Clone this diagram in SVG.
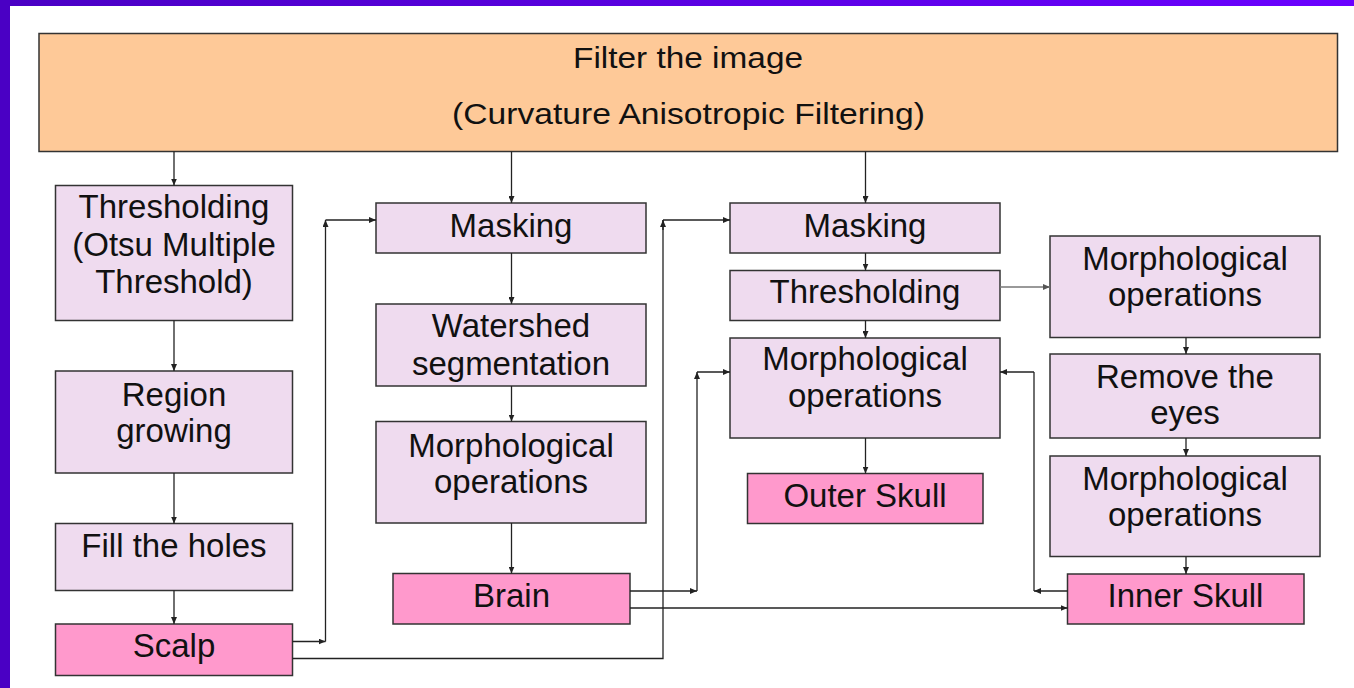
<svg xmlns="http://www.w3.org/2000/svg" width="1354" height="688" viewBox="0 0 1354 688">
<defs>
<linearGradient id="frame" x1="0" y1="0" x2="1" y2="0">
<stop offset="0" stop-color="#4a00c4"/>
<stop offset="1" stop-color="#6a00ff"/>
</linearGradient>
<marker id="ah" markerUnits="userSpaceOnUse" markerWidth="7" markerHeight="6" refX="7" refY="3" orient="auto">
<path d="M0,0 L7,3 L0,6 z" fill="#222"/>
</marker>
<marker id="ahg" markerUnits="userSpaceOnUse" markerWidth="7" markerHeight="6" refX="7" refY="3" orient="auto">
<path d="M0,0 L7,3 L0,6 z" fill="#555"/>
</marker>
<style>
.box{fill:#efdbef;stroke:#333;stroke-width:1.5}
.out{fill:#ff99cc;stroke:#333;stroke-width:1.5}
.top{fill:#fec998;stroke:#333;stroke-width:1.5}
text{font-family:"Liberation Sans",Arial,sans-serif;font-size:33px;fill:#111;text-anchor:middle}
.tt{font-size:29px}
.c{fill:none;stroke:#222;stroke-width:1.3;marker-end:url(#ah)}
.n{fill:none;stroke:#222;stroke-width:1.3}
.g{fill:none;stroke:#777;stroke-width:1.3;marker-end:url(#ahg)}
</style>
</defs>
<rect x="0" y="0" width="1354" height="688" fill="#ffffff"/>
<rect x="0" y="0" width="1354" height="6" fill="url(#frame)"/>
<rect x="0" y="0" width="10" height="688" fill="#4a00c4"/>

<g id="filter">
<rect class="top" x="39" y="33.5" width="1298.5" height="118"/>
<text class="tt" x="688" y="68" textLength="230" lengthAdjust="spacingAndGlyphs">Filter the image</text>
<text class="tt" x="688.5" y="123.5" textLength="473" lengthAdjust="spacingAndGlyphs">(Curvature Anisotropic Filtering)</text>
</g>

<g id="thresholding1">
<rect class="box" x="55.5" y="185.5" width="237" height="135"/>
<text x="174" y="218">Thresholding</text>
<text x="174" y="255.5">(Otsu Multiple</text>
<text x="174" y="293">Threshold)</text>
</g>
<g id="region">
<rect class="box" x="55.5" y="371" width="237" height="102"/>
<text x="174" y="406">Region</text>
<text x="174" y="442">growing</text>
</g>
<g id="fill">
<rect class="box" x="55.5" y="523.5" width="237" height="67"/>
<text x="174" y="557">Fill the holes</text>
</g>
<g id="scalp">
<rect class="out" x="55.5" y="624" width="237" height="51.5"/>
<text x="174" y="657">Scalp</text>
</g>

<g id="masking1">
<rect class="box" x="376" y="203" width="270" height="50"/>
<text x="511" y="237">Masking</text>
</g>
<g id="watershed">
<rect class="box" x="376" y="304" width="270" height="82"/>
<text x="511" y="337">Watershed</text>
<text x="511" y="375">segmentation</text>
</g>
<g id="morph1">
<rect class="box" x="376" y="421.5" width="270" height="101.5"/>
<text x="511" y="457">Morphological</text>
<text x="511" y="493">operations</text>
</g>
<g id="brain">
<rect class="out" x="393" y="573.5" width="237" height="50.5"/>
<text x="511.5" y="607">Brain</text>
</g>

<g id="masking2">
<rect class="box" x="730" y="203" width="270" height="50"/>
<text x="865" y="237">Masking</text>
</g>
<g id="thresholding2">
<rect class="box" x="730" y="270.5" width="270" height="50"/>
<text x="865" y="303">Thresholding</text>
</g>
<g id="morph2">
<rect class="box" x="730" y="338" width="270" height="100"/>
<text x="865" y="370">Morphological</text>
<text x="865" y="407">operations</text>
</g>
<g id="outerskull">
<rect class="out" x="747.5" y="473.5" width="235.5" height="50"/>
<text x="865" y="507">Outer Skull</text>
</g>

<g id="morph3">
<rect class="box" x="1050" y="236" width="270" height="101.5"/>
<text x="1185" y="270">Morphological</text>
<text x="1185" y="306">operations</text>
</g>
<g id="eyes">
<rect class="box" x="1050" y="354" width="270" height="84"/>
<text x="1185" y="388">Remove the</text>
<text x="1185" y="424">eyes</text>
</g>
<g id="morph4">
<rect class="box" x="1050" y="456" width="270" height="100.5"/>
<text x="1185" y="490">Morphological</text>
<text x="1185" y="526">operations</text>
</g>
<g id="innerskull">
<rect class="out" x="1067.5" y="574" width="236.5" height="50"/>
<text x="1185.5" y="607">Inner Skull</text>
</g>

<g id="connectors">
<path class="c" d="M174,151.5 V185.5"/>
<path class="c" d="M511.5,151.5 V203"/>
<path class="c" d="M865.5,151.5 V203"/>
<path class="c" d="M174,320.5 V371"/>
<path class="c" d="M174,473 V523.5"/>
<path class="c" d="M174,590.5 V624"/>
<path class="c" d="M511.5,253 V304"/>
<path class="c" d="M511.5,386 V421.5"/>
<path class="c" d="M511.5,523 V573.5"/>
<path class="c" d="M865.5,253 V270.5"/>
<path class="c" d="M865.5,320.5 V338"/>
<path class="c" d="M865.5,438 V473.5"/>
<path class="c" d="M1186,337.5 V354"/>
<path class="c" d="M1186,438 V456"/>
<path class="c" d="M1186,556.5 V574"/>
<path class="g" d="M1000,287 H1050"/>
<path class="c" d="M292.5,641.5 H325.5"/>
<path class="c" d="M325.5,641.5 V220"/>
<path class="c" d="M325.5,220 H376"/>
<path class="n" d="M292.5,658.5 H663 V220"/>
<path class="c" d="M663,230 V220"/>
<path class="c" d="M663,220 H730"/>
<path class="c" d="M630,591 H697"/>
<path class="c" d="M697,591 V372"/>
<path class="c" d="M697,372 H730"/>
<path class="c" d="M630,608 H1067.5"/>
<path class="c" d="M1067.5,591 H1034"/>
<path class="n" d="M1034,591 V372"/>
<path class="c" d="M1034,372 H1000"/>
</g>
</svg>
